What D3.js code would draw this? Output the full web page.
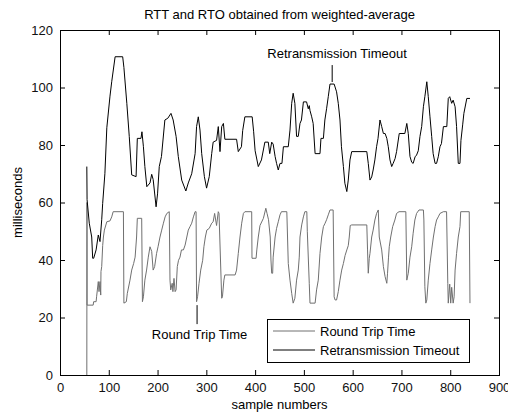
<!DOCTYPE html>
<html lang="en">
<head>
    <title>RTT and RTO</title>
    <meta charset="utf-8">
    <script src="https://d3js.org/d3.v7.min.js"></script>
    <style>
        body { margin: 0; background: #fff; }
        text { font-family: "Liberation Sans", Arial, sans-serif; }
    </style>
</head>
<body>
<div id="chart"></div>
<script>
    // samples / values
    const rttSamples = [55, 55.3, 55.5, 68, 69, 74, 75, 78.5, 80, 82, 83.5, 84, 85.5, 87.5, 89, 91, 96, 102.5, 106, 109,
        130, 131, 136, 138, 143.5, 147, 151, 154, 157, 158.5, 167.5, 169, 171, 174, 177.5, 181, 184.5, 188, 191, 194,
        198, 201, 205, 208.5, 212, 215.5, 219, 224, 225.5, 227, 230, 231.5, 233.7, 236, 238, 240.5, 243, 246, 249, 253,
        256.5, 260, 263, 266.5, 270, 273.5, 277, 279, 280, 282, 285, 288.5, 292.5, 295, 298, 301, 306, 311, 314, 317,
        321, 324.5, 326, 331.5, 333, 336, 338, 359, 362, 365.5, 369, 372.5, 376, 379, 393, 393.6, 402, 403.5, 406.5, 410,
        417, 422, 424.5, 427.5, 431, 432.5, 434, 436, 437, 441, 444, 447.5, 451, 454, 465, 468, 471.5, 475, 478, 481.5,
        485, 488.5, 490.5, 492, 495.5, 499, 502, 506, 507, 511, 512.5, 523, 526, 529.5, 533, 536.5, 540, 543.5, 546.5,
        550, 553.5, 560, 562, 564, 567, 570.5, 574, 577.5, 581, 584.5, 588, 591, 593, 595, 598, 629, 630.5, 632, 634,
        635.5, 639, 642, 645.5, 649, 652.5, 654.5, 659.5, 663, 666.5, 670, 671.5, 673.5, 675, 678, 682, 686.5, 690, 695,
        709, 711, 714, 717.5, 721, 724, 727.5, 731, 736, 745, 746, 748, 750, 752, 755, 758.5, 762, 765.5, 769, 772,
        775.5, 779, 786, 792.5, 795, 796, 799, 801, 803, 806, 808, 810, 813, 816.5, 820, 821.5, 839, 840.5];
    const rttValues = [0, 60, 24.3, 24.3, 25.5, 25.5, 27.2, 32.5, 29, 32.5, 27.8, 36, 37.7, 45, 48, 50.4, 53.3, 53.6, 55, 56.8,
        56.8, 25, 25.5, 28.4, 33, 36.5, 38.8, 41, 48, 54.5, 54.5, 25.5, 27.2, 33, 36.5, 41, 44.6, 43, 36.5, 37.7,
        42.3, 44.6, 48, 50.4, 52.8, 55, 56.2, 56.8, 33, 29.6, 31.9, 29, 33.6, 29, 29.6, 37.7, 39.9, 41, 43.5, 43.5,
        45.2, 48, 50.4, 51.6, 52.8, 55, 56.8, 56.8, 25.5, 27.2, 31.9, 36.5, 39.9, 44.6, 48, 50.4, 51, 52.8, 53.3, 56.2,
        52, 56.8, 56.2, 26.7, 27.2, 33, 34.8, 34.8, 36.5, 42.3, 48, 52.8, 56.2, 56.8, 56.8, 40.6, 40.6, 43.5, 48, 52,
        54.5, 58, 56.2, 54, 48, 40, 35.4, 35.4, 41, 48, 51, 53.3, 55.7, 56.8, 56.8, 38.8, 33, 28.4, 25, 26.7,
        33, 36.5, 41, 48, 52.2, 55, 56.8, 56.8, 50, 31.9, 25, 25, 29.6, 33, 42.3, 48, 51.6, 52.8, 54,
        55.7, 57.4, 57.4, 27.2, 26.1, 26.1, 29, 33, 36.5, 38.8, 41.6, 43.5, 45, 48, 52, 52.2, 52.2, 43.5, 35.4, 40.6,
        42.3, 48, 50.4, 53.9, 56.2, 57.4, 48, 43.5, 37.7, 34.2, 31.9, 35.4, 41, 44.6, 48, 51.6, 53.9, 56.2, 56.8,
        56.8, 33, 35.4, 41, 44.6, 49.3, 53.9, 56.2, 57.4, 57.4, 53.9, 30.7, 25, 26.1, 33, 38.8, 43.5, 48, 51.6, 53.9,
        55, 56.2, 56.8, 56.8, 31.9, 25, 31.6, 25, 30.5, 25, 27.2, 36.5, 42.3, 48, 51.6, 56.8, 56.8, 25];

    const rtoSamples = [55, 55.5, 60, 65, 67, 69, 74, 78.5, 82, 85.5, 87.5, 92, 96, 102.5, 106, 113, 128.5, 131, 137, 142,
        147, 156, 158.5, 166, 168, 171, 174, 178, 184.5, 188, 191, 197, 200, 203.5, 208, 215, 221, 227.5, 232, 238,
        242.5, 249.5, 258, 263, 270, 277, 280, 283.5, 287, 290.5, 296, 300.5, 306, 311, 314, 321, 324.5, 328, 331.5, 335,
        338, 362, 365.5, 372, 374.5, 379, 394, 397, 400, 406.5, 413, 420, 427, 430, 434, 437, 441, 444, 447.5, 451,
        455, 458, 468, 471.5, 475, 478, 481.5, 485, 488.5, 492, 495, 499, 505.5, 509, 511, 512.5, 516, 519, 523, 533,
        535, 540, 543, 546.5, 550, 553.5, 562, 567, 570.5, 574, 577, 581, 584, 588, 591, 594.5, 598, 629, 632, 635.5,
        639, 642, 645.5, 649, 652, 656, 659.5, 663, 666.5, 670, 673, 676.5, 680, 683, 687, 690, 695.5, 707, 711, 714,
        717.5, 721, 724, 728, 731, 734.5, 738, 741.5, 745, 748, 752, 755, 758.5, 762, 765, 769, 772, 775.5, 779, 782,
        786, 793, 796, 799, 803, 806, 810, 813, 816.5, 820, 822, 825.5, 828, 834, 840.5];
    const rtoValues = [72.5, 61, 52.8, 48, 40.6, 40.6, 43.5, 48.7, 46.4, 54, 59.7, 70, 86, 97, 102, 110.7, 110.7, 107, 94.5, 83,
        69.6, 69, 82.3, 82.3, 84.6, 79.4, 72.5, 65.5, 66.8, 69.8, 68, 58.5, 63, 72.5, 76, 88.7, 89.3, 91, 88.7, 83,
        76, 67.8, 64, 66.8, 70, 77, 86.4, 89.8, 85.2, 77, 69, 65, 69, 77, 81, 81.6, 86.4, 77.7, 86.4, 87.5,
        82, 82, 77.7, 79.4, 85, 89.8, 89.8, 84.6, 78, 72.5, 74.8, 81, 81, 77, 81, 80.3, 76, 73.6, 71.3, 73.6,
        73.6, 79.4, 79.4, 85.2, 94.5, 98, 94.5, 83, 83, 87.5, 88.7, 95, 95, 92.6, 93.7, 92, 89.8, 87.5, 77, 77,
        82.3, 82.3, 88.7, 92.6, 96.8, 101.2, 101.2, 98.5, 94.5, 88.7, 79.4, 72.5, 66.7, 63.8, 67.8, 74.8, 77.7, 77.7, 73.6, 67.8,
        68.9, 71.3, 74.8, 79.4, 82.3, 88.7, 86.4, 84, 84, 82.3, 79.4, 74.8, 72.5, 73.6, 75.3, 77.7, 84, 84, 87.5, 84,
        76, 74, 73.6, 75.9, 76.5, 78, 83, 86.4, 93.3, 96.8, 102, 96.8, 89.8, 83, 77, 73.6, 73.6, 75.9, 79.4, 80.5,
        86.4, 86.4, 96.2, 96.8, 94.5, 95.6, 93.3, 86.4, 73.6, 73.6, 81.6, 87, 91, 96.2, 96.2];

    const xTicks = [0, 100, 200, 300, 400, 500, 600, 700, 800, 900];
    const yTicks = [0, 20, 40, 60, 80, 100, 120];
    const seriesNames = ["Round Trip Time", "Retransmission Timeout"];

    const margin = {top: 30, right: 9, bottom: 39, left: 60},
        width = 508 - margin.left - margin.right,
        height = 414 - margin.top - margin.bottom;

    const svgRoot = d3.select("#chart")
        .append("svg")
        .attr("width", 508)
        .attr("height", 414);

    const svg = svgRoot.append("g")
        .attr("transform", `translate(${margin.left},${margin.top})`);

    const x = d3.scaleLinear().domain([0, 900]).range([0, width]);
    const y = d3.scaleLinear().domain([0, 120]).range([height, 0]);

    // white plot box
    svg.append("rect")
        .attr("width", width).attr("height", height)
        .attr("fill", "#fff");

    // lines
    const line = d3.line().x(d => x(d[0])).y(d => y(d[1]));
    const rtt = rttSamples.map((s, i) => [s, rttValues[i]]);
    const rto = rtoSamples.map((s, i) => [s, rtoValues[i]]);

    svg.append("path").datum(rtt)
        .attr("d", line)
        .attr("fill", "none")
        .attr("stroke", "#707070")
        .attr("stroke-width", 1);

    svg.append("path").datum(rto)
        .attr("d", line)
        .attr("fill", "none")
        .attr("stroke", "#000")
        .attr("stroke-width", 1);

    // axes, MATLAB style: inward ticks on all four sides
    function styleAxis(g) {
        g.select(".domain").remove();
        g.selectAll("line").attr("stroke", "#000");
        g.selectAll("text").attr("fill", "#111").style("font-size", "13px")
            .style("font-family", "'Liberation Sans', Arial, sans-serif");
    }

    svg.append("g")
        .attr("transform", `translate(0,${height})`)
        .call(d3.axisBottom(x).tickValues(xTicks).tickSizeInner(-5).tickSizeOuter(0).tickPadding(8))
        .call(styleAxis);
    svg.append("g")
        .call(d3.axisTop(x).tickValues(xTicks).tickSizeInner(-5).tickSizeOuter(0).tickFormat(""))
        .call(styleAxis);
    svg.append("g")
        .call(d3.axisLeft(y).tickValues(yTicks).tickSizeInner(-5).tickSizeOuter(0).tickPadding(7))
        .call(styleAxis);
    svg.append("g")
        .attr("transform", `translate(${width},0)`)
        .call(d3.axisRight(y).tickValues(yTicks).tickSizeInner(-5).tickSizeOuter(0).tickFormat(""))
        .call(styleAxis);

    svg.append("rect")
        .attr("width", width).attr("height", height)
        .attr("fill", "none")
        .attr("stroke", "#000")
        .attr("shape-rendering", "crispEdges");

    // title and axis labels
    svgRoot.append("text")
        .attr("x", margin.left + width / 2).attr("y", 19)
        .attr("text-anchor", "middle")
        .style("font-size", "13px")
        .text("RTT and RTO obtained from weighted-average");

    svgRoot.append("text")
        .attr("x", margin.left + width / 2).attr("y", 409)
        .attr("text-anchor", "middle")
        .style("font-size", "13px")
        .text("sample numbers");

    svgRoot.append("text")
        .attr("transform", `translate(22,${margin.top + height / 2}) rotate(-90)`)
        .attr("text-anchor", "middle")
        .style("font-size", "13px")
        .text("milliseconds");

    // annotations pointing at the curves
    const notes = [
        {label: "Retransmission Timeout", tx: 568, ty: 110.3, from: 107.8, to: 101.9, at: 558},
        {label: "Round Trip Time", tx: 286, ty: 12.6, from: 24.3, to: 17.7, at: 281}
    ];
    notes.forEach(n => {
        svg.append("line")
            .attr("x1", x(n.at)).attr("x2", x(n.at))
            .attr("y1", y(n.from)).attr("y2", y(n.to))
            .attr("stroke", "#000");
        svg.append("text")
            .attr("x", x(n.tx)).attr("y", y(n.ty))
            .attr("text-anchor", "middle")
            .style("font-size", "13px")
            .text(n.label);
    });

    // legend
    const legend = svg.append("g").attr("transform", "translate(207,289)");
    legend.append("rect")
        .attr("width", 202).attr("height", 43)
        .attr("fill", "#fff")
        .attr("stroke", "#000")
        .attr("shape-rendering", "crispEdges");
    const legendColors = ["#707070", "#000"];
    seriesNames.forEach((name, i) => {
        const ly = 12 + i * 19;
        legend.append("line")
            .attr("x1", 6).attr("x2", 48)
            .attr("y1", ly).attr("y2", ly)
            .attr("stroke", legendColors[i]);
        legend.append("text")
            .attr("x", 53).attr("y", ly + 4.5)
            .style("font-size", "13px")
            .text(name);
    });
</script>
</body>
</html>
